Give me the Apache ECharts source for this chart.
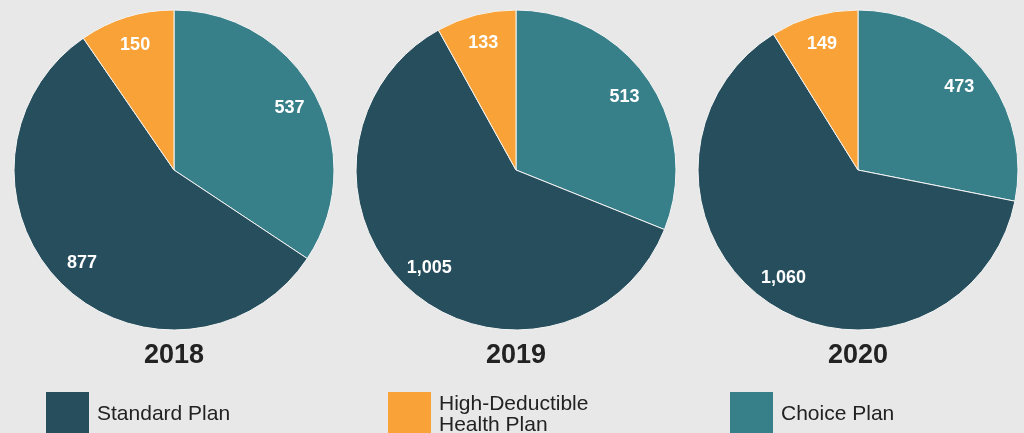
<!DOCTYPE html>
<html>
<head>
<meta charset="utf-8">
<script src="https://cdn.jsdelivr.net/npm/echarts@6/dist/echarts.min.js"></script>
<style>
  html, body { margin: 0; padding: 0; background: #e7e8e7; }
  #chart { width: 1024px; height: 433px; }
</style>
</head>
<body>
<div id="chart"></div>
<script>
// pie order, clockwise from 12 o'clock
var planNames = ['Choice Plan', 'Standard Plan', 'High-Deductible\nHealth Plan']
var planColors = ['#37808a', '#264e5c', '#f9a237']
var years = ['2018', '2019', '2020']
var values2018 = [537, 877, 150]
var values2019 = [513, 1005, 133]
var values2020 = [473, 1060, 149]
var legendOrder = ['Standard Plan', 'High-Deductible\nHealth Plan', 'Choice Plan']

var font = "'Liberation Sans', Arial, sans-serif"
var allValues = [values2018, values2019, values2020]
var centersX = [174, 516, 858]
var centerY = 170
var radius = 160

function toData(vals) {
  return vals.map(function(v, i) {
    return { name: planNames[i], value: v, itemStyle: { color: planColors[i] } }
  })
}

var series = []
var titles = []
allValues.forEach(function(vals, k) {
  // the slices
  series.push({
    type: 'pie',
    center: [centersX[k], centerY],
    radius: [0, radius],
    startAngle: 90,
    clockwise: true,
    silent: true,
    label: { show: false },
    labelLine: { show: false },
    itemStyle: { borderColor: '#f4f4f4', borderWidth: 1 },
    data: toData(vals)
  })
  // invisible ring only to place the value labels near the rim
  series.push({
    type: 'pie',
    center: [centersX[k], centerY],
    radius: [radius * 0.6, radius],
    startAngle: 90,
    clockwise: true,
    silent: true,
    legendHoverLink: false,
    itemStyle: { color: 'transparent', borderWidth: 0 },
    label: {
      show: true,
      position: 'inside',
      color: '#fff',
      fontFamily: font,
      fontWeight: 'bold',
      fontSize: 18,
      formatter: function(p) { return p.value.toLocaleString('en-US') }
    },
    labelLine: { show: false },
    data: vals.map(function(v, i) { return { name: planNames[i], value: v } })
  })
  titles.push({
    text: years[k],
    left: centersX[k],
    top: 342,
    padding: 0,
    textAlign: 'center',
    textStyle: { fontFamily: font, fontWeight: 'bold', fontSize: 27, color: '#222' }
  })
})

var legendLeft = [46, 388, 730]
var legends = legendOrder.map(function(name, i) {
  return {
    data: [name],
    left: legendLeft[i],
    top: 392,
    padding: 0,
    icon: 'rect',
    itemWidth: 43,
    itemHeight: 45,
    itemStyle: { borderWidth: 0 },
    selectedMode: false,
    textStyle: { fontFamily: font, fontSize: 21, color: '#222', lineHeight: 21, padding: [0, 0, 0, 3] }
  }
})

var chart = echarts.init(document.getElementById('chart'))
chart.setOption({
  backgroundColor: '#e7e8e7',
  animation: false,
  title: titles,
  legend: legends,
  series: series
})
</script>
</body>
</html>
